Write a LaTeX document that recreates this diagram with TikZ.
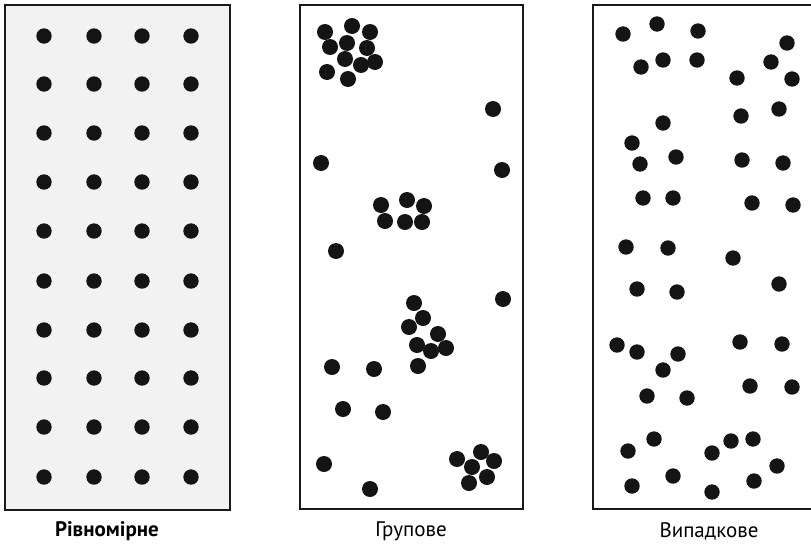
\documentclass[tikz,border=0pt]{standalone}
\usepackage{fontspec}
\setmainfont{PT Sans}
\begin{document}
\begin{tikzpicture}[x=1pt,y=-1pt,
  panel/.style={line width=2.4pt,draw=black!90},
  dot/.style={fill=black!92},
  lbl/.style={font=\fontsize{21}{24}\selectfont,inner sep=0pt,anchor=center}]
\useasboundingbox (0,0) rectangle (811,544);
% panel 1
\filldraw[panel,fill=black!5] (5,5) rectangle (230,510);
\foreach \x in {44,94,142,191}
  \foreach \y in {36,84,133,182,231,281,330,378,427,477}
    \fill[dot] (\x,\y) circle (7.7);
% panel 2
\draw[panel] (300,5) rectangle (523,509);
\foreach \p in {(325,32),(352,26),(370,32),(330,47),(347,43),(367,48),(345,59),(361,65),(375,62),(327,72),(348,79),
  (493,109),(321,163),(502,170),(381,205),(407,200),(424,206),(385,221),(405,222),(422,222),(336,251),
  (503,299),(414,303),(423,318),(409,327),(438,334),(417,345),(431,351),(446,348),(418,366),(332,367),(374,369),
  (343,409),(383,412),(324,464),(457,459),(481,452),(494,461),(472,467),(487,477),(469,483),(370,489)}
  \fill[dot] \p circle (8);
% panel 3
\draw[panel] (815,5) -- (593,5) -- (593,509) -- (815,509);
\foreach \p in {(623,34),(657,24),(698,31),(787,43),(641,67),(663,60),(697,60),(771,62),(737,78),(792,79),
  (663,123),(741,116),(779,109),(632,143),(640,164),(676,157),(742,160),(783,163),(643,198),(673,198),(752,203),(793,205),
  (626,247),(668,248),(733,258),
  (637,289),(677,292),(779,284),(617,345),(637,352),(678,354),(740,342),(782,344),(663,370),(750,386),(792,387),
  (647,396),(687,398),(654,439),(628,451),(712,453),(731,441),(753,439),(777,466),(673,476),(632,486),(712,492),(754,481)}
  \fill[dot] \p circle (7.7);
% labels
\node[lbl,font=\fontsize{21}{24}\selectfont\bfseries] (l1) at (107,531) {Рівномірне};
\node[lbl] (l2) at (411,531) {Групове};
\node[lbl] (l3) at (709,531) {Випадкове};
\end{tikzpicture}
\end{document}
